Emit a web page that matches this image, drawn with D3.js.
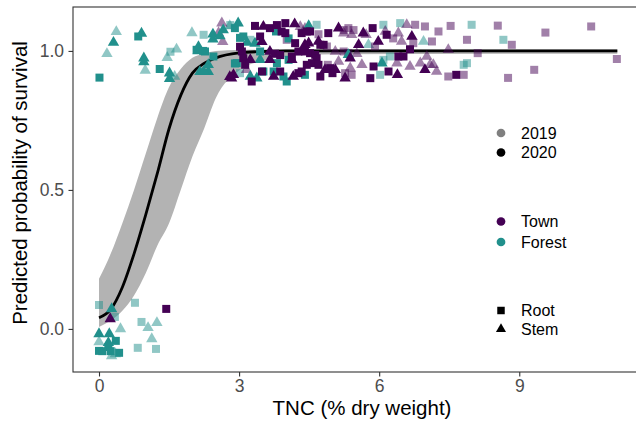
<!DOCTYPE html>
<html>
<head>
<meta charset="utf-8">
<script src="https://cdn.jsdelivr.net/npm/d3@7"></script>
<style>
  body { margin: 0; background: #fff; }
  svg { display: block; font-family: "Liberation Sans", Arial, sans-serif; }
</style>
</head>
<body>
<script>
// fitted curve + confidence band
const curveX   = [0, 0.25, 0.5, 0.75, 1.0, 1.25, 1.5, 1.75, 2.0, 2.25, 2.5, 3.0, 3.5, 4.0, 5.0, 11.1];
const curveY   = [0.04, 0.07, 0.15, 0.27, 0.41, 0.56, 0.72, 0.84, 0.92, 0.955, 0.975, 0.993, 0.998, 1.0, 1.0, 1.0];
const bandLow  = [0.007, 0.03, 0.065, 0.12, 0.20, 0.30, 0.38, 0.50, 0.62, 0.72, 0.83, 0.93, 0.965, 0.98, 0.988, 0.99];
const bandHigh = [0.18, 0.27, 0.38, 0.50, 0.63, 0.76, 0.87, 0.935, 0.975, 0.99, 1.0, 1.003, 1.004, 1.005, 1.005, 1.005];

const years = ["2019", "2020"];
const sites = ["Town", "Forest"];
const tissues = ["Root", "Stem"];
const xTicks = [0, 3, 6, 9];
const yTicks = [0, 0.5, 1.0];

// observations [TNC, jittered survival]
const forest2020Root = [[0,-0.079],[0.2,-0.065],[0.36,-0.043],[0.43,-0.086],[0.25,-0.08],[0.07,-0.08],
  [0.01,0.904],[0.84,1.052],[1.30,0.935],[2.23,1.0],[2.91,0.955],[3.02,1.047],[2.91,1.082],[3.09,1.052],
  [3.79,1.07],[2.09,1.004],[2.27,0.998],[2.45,0.98],[3.45,0.998],[2.95,0.956],[3.81,0.956],[3.52,0.926],
  [3.74,0.926],[3.95,0.908],[4.02,0.89],[4.06,0.968],[4.41,0.914],[4.06,1.045]];
const forest2020Stem = [[0.27,0.072],[0,-0.018],[0.22,-0.018],[0.2,-0.05],[0.91,1.063],[0.31,1.03],
  [0.96,0.974],[0.96,0.96],[1.51,0.92],[1.51,0.90],[2.98,1.10],[2.44,1.06],[2.12,1.0],[2.16,0.925],
  [2.34,0.925],[2.34,0.95],[3.17,1.03],[2.44,1.042],[2.59,1.054],[2.66,1.075],[3.34,1.027],[2.13,1.015],
  [2.24,0.926],[3.45,0.968],[3.24,0.908],[3.38,0.902],[4.49,1.09],[5.34,0.986],[6.06,0.956]];
const forest2019Root = [[0,0.086],[0.34,0.043],[0.77,0.094],[0.91,0.025],[0.83,-0.068],[1.22,-0.072],
  [1.53,0.997],[2.24,1.058],[2.81,1.093],[3.24,1.04],[3.02,0.92],[4.66,1.094],[6.02,0.914],[6.09,1.094],
  [6.45,1.10],[6.09,0.968],[6.23,0.98],[7.98,1.094],[7.81,0.95],[7.88,0.956],[8.66,1.04]];
const forest2019Stem = [[0.46,0.0],[1.24,0.022],[1.05,0.004],[1.13,-0.036],[0,-0.047],[0.27,-0.097],
  [0.35,-0.09],[0.37,1.069],[0.17,0.99],[0.99,0.93],[1.66,1.006],[1.46,0.976],[1.62,0.908],[1.99,1.065],
  [2.8,1.09],[5.77,1.022],[6.95,1.034]];
const town2020Root = [[1.44,0.072],[3.34,1.09],[3.66,1.082],[3.81,1.093],[3.91,1.07],[3.45,1.052],
  [3.06,0.998],[3.09,0.974],[3.77,0.99],[3.88,0.985],[3.13,0.95],[3.49,0.926],[3.88,0.926],[3.27,0.89],
  [3.02,1.015],[3.99,1.10],[4.34,1.064],[4.45,1.07],[4.52,1.07],[3.99,1.064],[4.91,1.064],[5.86,1.082],
  [4.2,1.028],[4.74,1.022],[4.81,1.022],[4.13,0.98],[4.27,0.998],[4.41,0.998],[4.52,0.992],[4.63,0.986],
  [4.66,0.974],[4.45,0.95],[4.56,0.956],[4.70,0.95],[4.34,0.926],[4.27,0.92],[4.95,0.938],[5.0,0.92],
  [4.74,0.908],[5.81,0.902],[5.88,0.944],[6.16,1.058],[6.66,1.006],[6.41,0.98],[6.52,0.98],[6.2,0.926],
  [7.65,0.914]];
const town2020Stem = [[0.24,0.036],[2.8,0.907],[2.84,0.902],[2.88,0.914],[3.52,1.088],[3.49,1.033],
  [3.66,0.998],[3.24,0.968],[3.66,0.968],[3.74,0.908],[4.19,1.097],[5.13,1.082],[5.66,1.064],[4.41,1.022],
  [4.49,1.028],[4.7,1.034],[5.56,1.022],[5.98,1.034],[4.13,0.968],[5.38,0.974],[4.84,0.932],[5.06,0.932],
  [4.16,0.908],[5.27,0.902],[6.7,1.052],[6.98,0.932],[6.39,0.914]];
const town2019Root = [[4.02,1.04],[5.24,1.075],[5.34,1.082],[5.45,1.075],[4.88,1.016],[5.91,1.016],
  [5.24,0.998],[5.34,0.992],[5.27,0.92],[5.41,0.914],[6.77,1.094],[6.98,1.088],[7.27,1.07],[7.53,1.09],
  [6.3,1.045],[6.73,1.028],[7.13,1.034],[7.88,1.04],[7.48,0.908],[7.81,0.914],[8.54,1.091],[8.84,1.022],
  [9.56,1.066],[10.54,1.088],[8.11,0.992],[11.09,0.971],[9.32,0.932],[8.76,0.903],[4.9,0.95],[4.7,1.06]];
const town2019Stem = [[2.63,1.10],[2.65,1.033],[3.16,0.932],[2.56,1.065],[4.31,1.087],[4.41,1.08],
  [5.24,1.064],[5.41,1.058],[5.06,0.998],[5.13,0.962],[5.38,0.938],[5.63,0.95],[5.52,0.99],[5.72,1.058],
  [6.59,1.094],[6.13,1.07],[6.41,1.064],[6.48,1.034],[7.48,1.004],[7.02,0.98],[6.88,0.956],[7.09,0.95],
  [7.23,0.926],[7.16,0.95],[6.38,0.956],[6.66,0.944]];

// 2019 drawn first, 2020 on top
const groups = [
  {year:"2019", site:"Forest", tissue:"Root", pts:forest2019Root},
  {year:"2019", site:"Forest", tissue:"Stem", pts:forest2019Stem},
  {year:"2019", site:"Town", tissue:"Root", pts:town2019Root},
  {year:"2019", site:"Town", tissue:"Stem", pts:town2019Stem},
  {year:"2020", site:"Forest", tissue:"Root", pts:forest2020Root},
  {year:"2020", site:"Forest", tissue:"Stem", pts:forest2020Stem},
  {year:"2020", site:"Town", tissue:"Root", pts:town2020Root},
  {year:"2020", site:"Town", tissue:"Stem", pts:town2020Stem}
];

var width = 636, height = 423;
var color = d3.scaleOrdinal().domain(sites).range(["#440154", "#21908C"]);
var alpha = d3.scaleOrdinal().domain(years).range([0.5, 1]);
var shape = d3.scaleOrdinal().domain(tissues).range([d3.symbolSquare, d3.symbolTriangle]);
var shapeSize = {Root: 64, Stem: 56};

var x = d3.scaleLinear().domain([-0.557, 11.5]).range([73, 636]);
var y = d3.scaleLinear().domain([-0.155, 1.158]).range([372, 7]);

var svg = d3.select("body").append("svg")
            .attr("width", width).attr("height", height);

// ribbon + fitted line
var band = curveX.map((v, i) => ({x: v, lo: bandLow[i], hi: bandHigh[i], y: curveY[i]}));
svg.append("path")
   .datum(band)
   .attr("fill", "#b3b3b3")
   .attr("d", d3.area().curve(d3.curveMonotoneX)
        .x(d => x(d.x)).y0(d => y(d.lo)).y1(d => y(d.hi)));
svg.append("path")
   .datum(band)
   .attr("fill", "none")
   .attr("stroke", "#000")
   .attr("stroke-width", 2.8)
   .attr("d", d3.line().curve(d3.curveMonotoneX).x(d => x(d.x)).y(d => y(d.y)));

// points
groups.forEach(g => {
    svg.append("g").selectAll("path")
       .data(g.pts)
       .enter().append("path")
       .attr("transform", d => "translate(" + x(d[0]) + "," + y(d[1]) + ")")
       .attr("d", d3.symbol().type(shape(g.tissue)).size(shapeSize[g.tissue]))
       .attr("fill", color(g.site))
       .attr("fill-opacity", alpha(g.year));
});

// panel frame (right side falls outside the window)
svg.append("rect")
   .attr("x", 73).attr("y", 7).attr("width", 580).attr("height", 365)
   .attr("fill", "none").attr("stroke", "#333").attr("stroke-width", 1.1);

//Axes
var xAxis = d3.axisBottom(x).tickValues(xTicks).tickSize(4.5).tickSizeOuter(0).tickFormat(d3.format("d"));
var yAxis = d3.axisLeft(y).tickValues(yTicks).tickSize(4.5).tickSizeOuter(0).tickFormat(d3.format(".1f"));
var gx = svg.append("g").attr("transform", "translate(0,372)").call(xAxis);
var gy = svg.append("g").attr("transform", "translate(73,0)").call(yAxis);
[gx, gy].forEach(a => {
    a.select(".domain").remove();
    a.selectAll(".tick line").attr("stroke", "#333").attr("stroke-width", 1.1);
    a.selectAll(".tick text").attr("fill", "#4d4d4d").attr("font-size", "17.5px")
     .attr("font-family", "Liberation Sans, Arial, sans-serif");
});
gx.selectAll(".tick text").attr("dy", "0.71em").attr("y", 8);
gy.selectAll(".tick text").attr("x", -9);

//Axis titles
svg.append("text")
   .text("TNC (% dry weight)")
   .attr("x", 362).attr("y", 415)
   .attr("text-anchor", "middle").attr("font-size", "20.5px");
svg.append("text")
   .text("Predicted probability of survival")
   .attr("transform", "translate(27,183) rotate(-90)")
   .attr("text-anchor", "middle").attr("font-size", "20.5px");

//Legends
var legend = svg.append("g").attr("font-size", "16px");
function legendRow(cy, sym, text) {
    legend.append("path").attr("transform", "translate(501," + cy + ")")
          .attr("d", sym.d).attr("fill", sym.fill);
    legend.append("text").attr("x", 521).attr("y", cy + 5.5).text(text);
}
var circle = d3.symbol().type(d3.symbolCircle).size(60)();
years.forEach((yr, i) => legendRow(133 + i * 19.5, {d: circle, fill: d3.color("#000").copy({opacity: alpha(yr)})}, yr));
sites.forEach((s, i) => legendRow(221.5 + i * 20.5, {d: circle, fill: color(s)}, s));
tissues.forEach((t, i) => legendRow(310.5 + i * 18.5,
    {d: d3.symbol().type(shape(t)).size(t == "Root" ? 56 : 44)(), fill: "#000"}, t));
</script>
</body>
</html>
